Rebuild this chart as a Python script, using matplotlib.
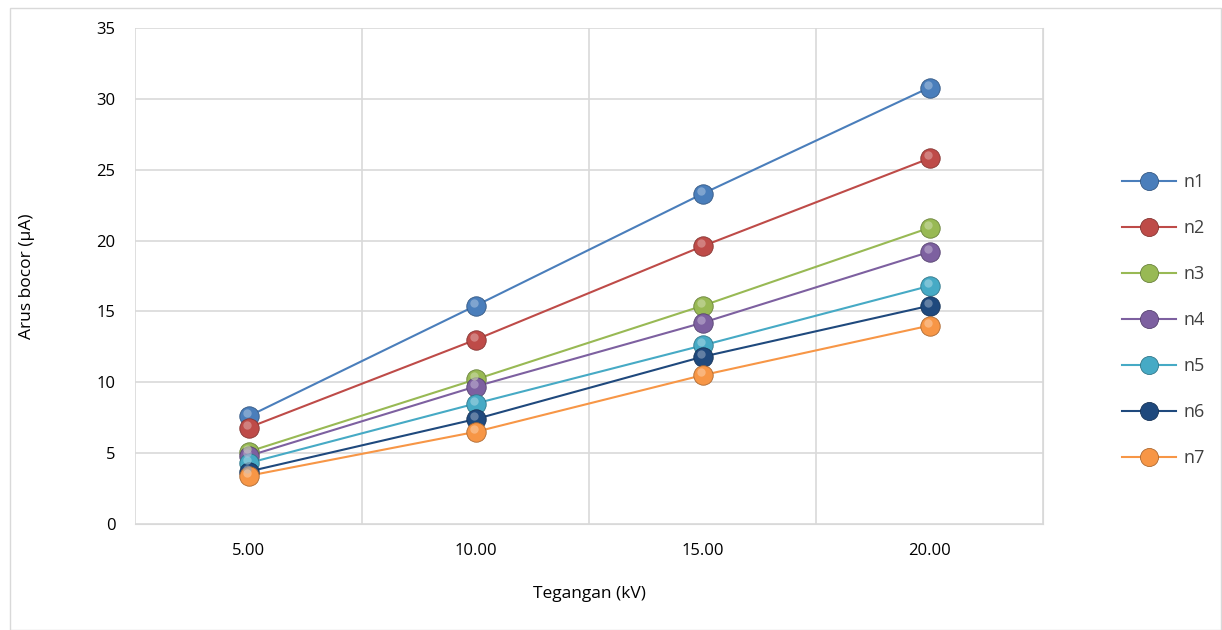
import numpy as np
import matplotlib
matplotlib.use("Agg")
from matplotlib import pyplot as plt
from matplotlib import transforms
from matplotlib.lines import Line2D
from matplotlib.patches import Rectangle

plt.rcParams['font.family'] = ['Open Sans', 'DejaVu Sans']

# tegangan uji (kV) dan arus bocor (uA) per sampel
tegangan = ["5.00", "10.00", "15.00", "20.00"]
n1 = [7.6, 15.4, 23.3, 30.8]
n2 = [6.8, 13.0, 19.6, 25.8]
n3 = [5.1, 10.2, 15.4, 20.9]
n4 = [4.8, 9.7, 14.2, 19.2]
n5 = [4.3, 8.5, 12.6, 16.8]
n6 = [3.7, 7.4, 11.8, 15.4]
n7 = [3.4, 6.5, 10.5, 14.0]
names = ["n1", "n2", "n3", "n4", "n5", "n6", "n7"]
series = [n1, n2, n3, n4, n5, n6, n7]
colors = ["#4A7EBB", "#BE4B48", "#98B954", "#7D60A0", "#46AAC5", "#1F497D", "#F79646"]

def darker(c, f=0.7):
    r, g, b = matplotlib.colors.to_rgb(c)
    return (r * f, g * f, b * f)

def lighter(c, f=0.5):
    r, g, b = matplotlib.colors.to_rgb(c)
    return (r + (1 - r) * f, g + (1 - g) * f, b + (1 - b) * f)

fig = plt.figure(figsize=(12.22, 6.3), dpi=100)
# outer chart border
fig.patches.append(Rectangle((10 / 1222, 0), 1211 / 1222, 622 / 630, transform=fig.transFigure,
                             fill=False, edgecolor="#D9D9D9", linewidth=1))
ax = fig.add_axes([135 / 1222, (630 - 524) / 630, (1043 - 135) / 1222, (524 - 28) / 630])

x = np.arange(len(tegangan))
hl = transforms.offset_copy(ax.transData, fig=fig, x=-1.5, y=3, units='dots')
for vals, name, c in zip(series, names, colors):
    ax.plot(x, vals, color=c, linewidth=1.5, zorder=3)
    ax.plot(x, vals, linestyle='none', marker='o', markersize=14, markerfacecolor=c,
            markeredgecolor=darker(c), markeredgewidth=0.6, zorder=4)
    ax.plot(x, vals, linestyle='none', marker='o', markersize=6, markerfacecolor=lighter(c),
            markeredgewidth=0, alpha=0.6, zorder=5, transform=hl)

ax.set_xlim(-0.5, len(tegangan) - 0.5)
ax.set_ylim(0, 35)
ax.set_yticks(np.arange(0, 36, 5))
ax.set_xticks(x)
ax.set_xticklabels(tegangan)
ax.set_xticks(np.arange(-0.5, len(tegangan), 1), minor=True)
ax.grid(True, which='major', axis='y', color="#D9D9D9", linewidth=1.2)
ax.grid(True, which='minor', axis='x', color="#D9D9D9", linewidth=1.2)
ax.tick_params(which='both', length=0, labelsize=12, colors="#000000")
ax.tick_params(axis='x', pad=14)
ax.tick_params(axis='y', pad=14)
for s in ax.spines.values():
    s.set_visible(False)
ax.spines['bottom'].set_visible(True)
ax.spines['bottom'].set_color("#D9D9D9")
ax.spines['right'].set_visible(True)
ax.spines['right'].set_color("#D9D9D9")
ax.set_axisbelow(True)

ax.set_xlabel("Tegangan (kV)", fontsize=12.5, labelpad=19)
ax.set_ylabel("Arus bocor (µA)", fontsize=12.5, labelpad=44)

handles = [Line2D([0], [0], color=c, linewidth=1.5, marker='o', markersize=13,
                  markerfacecolor=c, markeredgecolor=darker(c), markeredgewidth=0.6)
           for c in colors]
leg = fig.legend(handles, names, loc='center left', bbox_to_anchor=(1106 / 1222, 310 / 630),
                 frameon=False, fontsize=13, handlelength=3.0, labelspacing=1.55,
                 handletextpad=0.4)
for t in leg.get_texts():
    t.set_color("#404040")

fig.savefig("out.png", dpi=100)
